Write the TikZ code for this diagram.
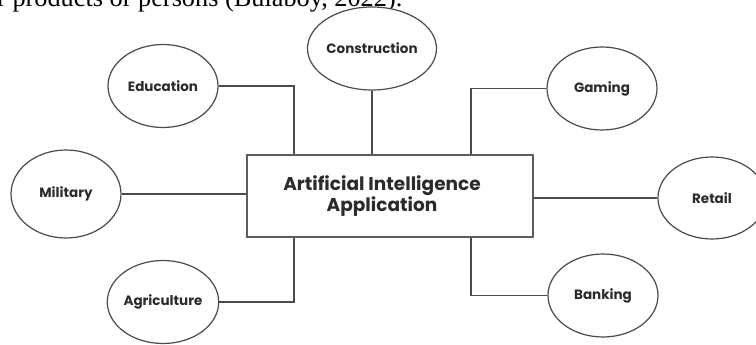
\documentclass[tikz,border=0pt]{standalone}
\usepackage{fontspec}
\setmainfont{Poppins}
\newfontfamily\bodyserif{Liberation Serif}
\usetikzlibrary{shapes.geometric}
\definecolor{edge}{HTML}{4A4A4A}
\definecolor{ink}{HTML}{2B2B2B}
\tikzset{
  area/.style={ellipse, draw=edge, line width=1.2pt, fill=white, inner sep=0pt,
    minimum width=110pt, minimum height=83pt, text=ink,
    font=\fontsize{13.5}{15}\selectfont\bfseries},
  hub/.style={rectangle, draw=edge!90, line width=1.8pt, fill=white,
    minimum width=286pt, minimum height=82pt, text=ink, align=center,
    font=\fontsize{18.5}{21}\selectfont\bfseries},
  link/.style={draw=edge, line width=1.3pt},
}
\begin{document}
\begin{tikzpicture}[x=1pt, y=-1pt]
  \useasboundingbox (0,0) rectangle (756,345);
  \clip (0,0) rectangle (756,345);

  % line of running text above the figure
  \node[anchor=base west, inner sep=0pt, font=\bodyserif\fontsize{26.3}{30}\selectfont]
    (caption) at (-3,6.5) {r products or persons (Bulaboy, 2022).};

  % central box
  \node[hub] (hub) at (390,196) {\hspace*{-16pt}Artificial Intelligence\\\hspace*{-16pt}Application};

  % application areas
  \node[area] (edu) at (163,86)  {Education};
  \node[area] (con) at (372,48.5){Construction};
  \node[area] (gam) at (602,88.5){Gaming};
  \node[area, minimum height=88pt] (mil) at (66,194) {Military};
  \node[area, minimum width=108pt, minimum height=82pt] (ret) at (712,198) {Retail};
  \node[area] (agr) at (163,302) {Agriculture};
  \node[area] (ban) at (603,295.5) {Banking};

  % connectors
  \draw[link] (edu.east) -| ([xshift=-96pt]hub.north);
  \draw[link] (con.south) -- (con.south |- hub.north);
  \draw[link] (gam.west) -| ([xshift=81pt]hub.north);
  \draw[link] (mil.east) -- (mil.east -| hub.west);
  \draw[link] (ret.west) -- (ret.west -| hub.east);
  \draw[link] (agr.east) -| ([xshift=-96pt]hub.south);
  \draw[link] (ban.west) -| ([xshift=81pt]hub.south);
\end{tikzpicture}
\end{document}
